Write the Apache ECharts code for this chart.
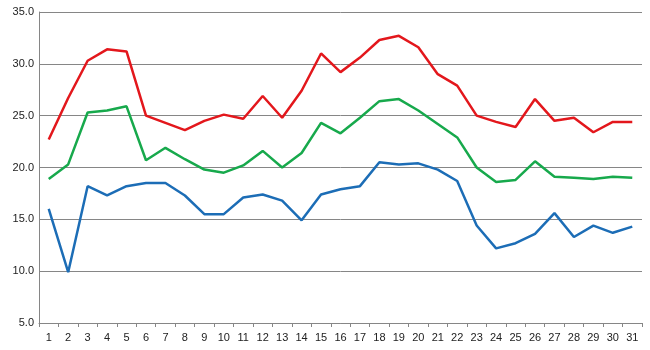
<!DOCTYPE html>
<html>
<head>
<meta charset="utf-8">
<script src="https://cdn.jsdelivr.net/npm/echarts@6/dist/echarts.min.js"></script>
<style>
  html, body { margin: 0; padding: 0; background: #fff; }
  #main { width: 650px; height: 350px; }
</style>
</head>
<body>
<div id="main"></div>
<script>
var days = [];
for (var d = 1; d <= 31; d++) days.push(String(d));

var redVals = [22.7, 26.7, 30.3, 31.4, 31.2, 25.0, 24.3, 23.6, 24.5, 25.1,
    24.7, 26.9, 24.8, 27.4, 31.0, 29.2, 30.6, 32.3, 32.7, 31.6,
    29.0, 27.9, 25.0, 24.4, 23.9, 26.6, 24.5, 24.8, 23.4, 24.4, 24.4];
var greenVals = [18.9, 20.3, 25.3, 25.5, 25.9, 20.7, 21.9, 20.8, 19.8, 19.5,
    20.2, 21.6, 20.0, 21.4, 24.3, 23.3, 24.8, 26.4, 26.6, 25.5,
    24.2, 22.9, 20.0, 18.6, 18.8, 20.6, 19.1, 19.0, 18.9, 19.1, 19.0];
var blueVals = [16.0, 9.9, 18.2, 17.3, 18.2, 18.5, 18.5, 17.3, 15.5, 15.5,
    17.1, 17.4, 16.8, 14.9, 17.4, 17.9, 18.2, 20.5, 20.3, 20.4,
    19.8, 18.7, 14.4, 12.2, 12.7, 13.6, 15.6, 13.3, 14.4, 13.7, 14.3];

var chart = echarts.init(document.getElementById('main'));

function line(vals, color) {
    return {
        type: 'line',
        data: vals,
        symbol: 'none',
        smooth: false,
        lineStyle: { color: color, width: 2.5 },
        itemStyle: { color: color }
    };
}

var option = {
    animation: false,
    grid: { left: 39, right: 8, top: 12, bottom: 27 },
    xAxis: {
        type: 'category',
        data: days,
        boundaryGap: true,
        axisLine: { lineStyle: { color: '#868686', width: 1 } },
        axisTick: { show: true, length: 4, lineStyle: { color: '#868686' } },
        axisLabel: {
            color: '#222',
            fontSize: 11,
            fontFamily: 'Liberation Sans',
            margin: 9,
            interval: 0
        }
    },
    yAxis: {
        type: 'value',
        min: 5,
        max: 35,
        interval: 5,
        axisLine: { show: true, lineStyle: { color: '#868686', width: 1 } },
        axisTick: { show: false },
        splitLine: { lineStyle: { color: '#868686', width: 1 } },
        axisLabel: {
            color: '#222',
            fontSize: 11,
            fontFamily: 'Liberation Sans',
            margin: 5,
            formatter: function (v) { return v.toFixed(1); }
        }
    },
    series: [
        line(redVals, '#e3171c'),
        line(greenVals, '#17a94c'),
        line(blueVals, '#1c6db6')
    ]
};

chart.setOption(option);
</script>
</body>
</html>
